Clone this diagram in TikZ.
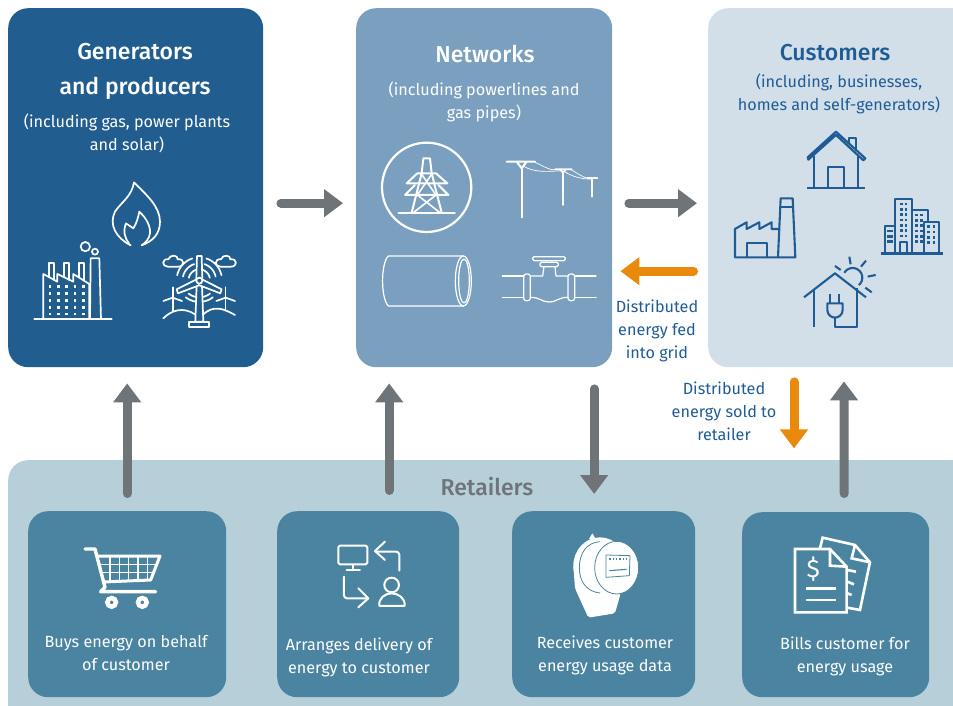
\documentclass[tikz,border=0pt]{standalone}
\usepackage{fontspec}
\setmainfont{Fira Sans}
\newfontfamily\titlefont{Fira Sans Medium}
\usetikzlibrary{arrows.meta}
\definecolor{genblue}{HTML}{215E8F}
\definecolor{netblue}{HTML}{7A9FBF}
\definecolor{custblue}{HTML}{D2DFE9}
\definecolor{retailblue}{HTML}{B7CFD9}
\definecolor{taskblue}{HTML}{4A84A0}
\definecolor{inkblue}{HTML}{1F5C96}
\definecolor{flowgrey}{HTML}{6F7479}
\definecolor{floworange}{HTML}{E98A0C}
\tikzset{
  panel/.style={anchor=north west, inner sep=0pt, rounded corners=20pt},
  title/.style={align=center, font=\titlefont\fontsize{23}{35}\selectfont, inner sep=0pt},
  body/.style={align=center, font=\fontsize{16.2}{23}\selectfont, inner sep=0pt},
  flow/.style={line width=9pt, draw=flowgrey, line cap=round, shorten <=4.5pt, -{Triangle[width=27pt,length=19pt]}},
  oflow/.style={flow, draw=floworange},
  wicon/.style={draw=white, line width=1.7pt, line join=round, line cap=round},
  bicon/.style={draw=inkblue, line width=2.1pt, line join=round},
}
\begin{document}
\begin{tikzpicture}[x=1pt, y=-1pt]
   \useasboundingbox (0,0) rectangle (953,706);
   \clip (0,0) rectangle (953,706);
   \node[panel, fill=genblue, minimum width=255pt, minimum height=359pt] (genbox) at (8,8) {};
   \node[panel, fill=netblue, minimum width=256pt, minimum height=359pt] (netbox) at (356,8) {};
   \node[panel, fill=custblue, minimum width=275pt, minimum height=359pt] (custbox) at (708,8) {};
   \node[panel, fill=retailblue, minimum width=985pt, minimum height=280pt] (retailbox) at (8,460) {};
   \node[panel, fill=taskblue, minimum width=198pt, minimum height=186pt] (buybox) at (28,511) {};
   \node[panel, fill=taskblue, minimum width=182pt, minimum height=186pt] (arrangebox) at (277,511) {};
   \node[panel, fill=taskblue, minimum width=183pt, minimum height=186pt] (usagebox) at (512,511) {};
   \node[panel, fill=taskblue, minimum width=187pt, minimum height=185pt] (billbox) at (742,512) {};

   \node[title, text=white] (gentitle) at (135,71) {Generators\\and producers};
   \node[body, text=white] (gentext) at (127,133) {(including gas, power plants\\and solar)};
   \node[title, text=white] (nettitle) at (485,54) {Networks};
   \node[body, text=white] (nettext) at (484,102) {(including powerlines and\\gas pipes)};
   \node[title, text=inkblue] (custtitle) at (835,53) {Customers};
   \node[body, text=inkblue] (custtext) at (839,94) {(including, businesses,\\homes and self-generators)};
   \node[body, text=inkblue] (fedtext) at (657,331) {Distributed\\energy fed\\into grid};
   \node[body, text=inkblue] (soldtext) at (724,411) {Distributed\\energy sold to\\retailer};
   \node[title, text=flowgrey] (retailtitle) at (487,487) {Retailers};
   \node[body, text=white] (buytext) at (126,653) {Buys energy on behalf\\of customer};
   \node[body, text=white] (arrangetext) at (359,657) {Arranges delivery of\\energy to customer};
   \node[body, text=white] (usagetext) at (605,655) {Receives customer\\energy usage data};
   \node[body, text=white] (billtext) at (845,656) {Bills customer for\\energy usage};

   \draw[flow] ([shift={(13,15.5)}]genbox.east) -- ([shift={(-13,15.5)}]netbox.west);
   \draw[flow] ([shift={(12,15.5)}]netbox.east) -- ([shift={(-11,15.5)}]custbox.west);
   \draw[oflow] ([shift={(-10,83.5)}]custbox.west) -- ([shift={(8,83.5)}]netbox.east);
   \draw[oflow] ([shift={(86,10)}]custbox.south west) -- ([shift={(86,81)}]custbox.south west);
   \draw[flow] ([yshift=13pt]buybox.north) -- ([shift={(-8.5,16)}]genbox.south);
   \draw[flow] ([shift={(21,-16)}]arrangebox.north) -- ([shift={(-95,16)}]netbox.south);
   \draw[flow] ([shift={(110,17)}]netbox.south) -- ([shift={(-9.5,-17)}]usagebox.north);
   \draw[flow] ([shift={(8.5,-14)}]billbox.north) -- ([shift={(136,14)}]custbox.south west);

   % flame
   \begin{scope}[shift={(0,170)}, scale=0.3333]
      \draw[wicon] (392,226) .. controls (350,205) and (325,165) .. (345,125) .. controls (365,95) and (395,80) .. (402,37)
         .. controls (440,75) and (480,110) .. (480,155) .. controls (480,195) and (455,215) .. (425,226);
      \draw[wicon] (388,222) .. controls (375,205) and (368,185) .. (378,160) -- (400,175) .. controls (410,160) and (415,140) .. (418,125)
         .. controls (440,145) and (452,170) .. (450,190) .. controls (448,205) and (438,218) .. (425,226);
      % factory
      \draw[wicon] (103,447) -- (335,447);
      \draw[wicon] (130,447) -- (130,312) -- (172,335) -- (172,312) -- (220,335) -- (220,312) -- (268,342) -- (268,447);
      \draw[wicon] (146,322) -- (146,278) -- (163,278) -- (163,330);
      \draw[wicon] (191,322) -- (191,278) -- (208,278) -- (208,330);
      \draw[wicon] (236,322) -- (236,278) -- (253,278) -- (253,332);
      \draw[wicon] (270,447) -- (272,265) -- (298,265) -- (303,447);
      \draw[wicon] (256,230) circle (14);
      \draw[wicon] (285,245) circle (9);
      \foreach \dotx in {150,175,200,225,250}
         \foreach \doty in {350,370,392,412,432}
            \fill[white] (\dotx-4,\doty-4) rectangle ++(8,8);
      % wind turbines
      \foreach \rad in {32,50,68} {
         \draw[wicon] plot[smooth, domain=12:72, samples=8] ({598+\rad*cos(\x)},{330-\rad*sin(\x)});
         \draw[wicon] plot[smooth, domain=108:168, samples=8] ({598+\rad*cos(\x)},{330-\rad*sin(\x)});
      }
      \foreach \rad in {52,66}
         \draw[wicon] plot[smooth, domain=232:308, samples=8] ({598+\rad*cos(\x)},{330-\rad*sin(\x)});
      \draw[wicon] (567,455) rectangle (628,470);
      \draw[wicon, fill=genblue] (590,345) -- (586,455) -- (610,455) -- (606,345);
      \draw[wicon, fill=genblue] (589,325) -- (591,258) -- (605,258) -- (607,325);
      \draw[wicon, fill=genblue] (590,328) -- (530,358) -- (534,370) -- (600,345);
      \draw[wicon, fill=genblue] (606,328) -- (665,358) -- (661,370) -- (596,345);
      \draw[wicon, fill=genblue] (598,332) circle (9);
      \foreach \cloudx in {0,158}
         \draw[wicon] (503+\cloudx,290) .. controls (485+\cloudx,290) and (485+\cloudx,265) .. (505+\cloudx,268)
            .. controls (510+\cloudx,252) and (535+\cloudx,255) .. (533+\cloudx,268)
            .. controls (555+\cloudx,265) and (555+\cloudx,290) .. (535+\cloudx,290) -- cycle;
      \foreach \millx in {518,677} {
         \draw[wicon] (\millx,352) -- (\millx,422);
         \draw[wicon] (\millx-28,393) -- (\millx,383) -- (\millx+28,393);
         \fill[white] (\millx,384) circle (5);
      }
      \draw[wicon] (490,445) .. controls (515,420) and (550,410) .. (585,433);
      \draw[wicon] (610,433) .. controls (640,405) and (670,415) .. (705,435);
   \end{scope}

   % pylon, poles, pipe, valve
   \begin{scope}[shift={(360,130)}, scale=0.3333]
      \draw[wicon, line width=2.2pt] (200,172) circle (134);
      \draw[wicon, line width=2pt] (115,248) -- (285,248);
      \draw[wicon, line width=2pt] (155,248) -- (185,130) -- (190,85) -- (210,85) -- (215,130) -- (245,248);
      \draw[wicon, line width=2pt] (140,160) -- (172,130) -- (228,130) -- (262,160) -- cycle;
      \draw[wicon, line width=2pt] (135,195) -- (165,165) (235,165) -- (265,195) -- (135,195);
      \draw[wicon, line width=1.6pt] (183,130) -- (228,195) -- (160,248) (217,130) -- (172,195) -- (240,248);
      \draw[wicon, line width=2.2pt] (485,115) -- (485,262);
      \draw[wicon, line width=2pt] (440,95) -- (525,95) (470,95) -- (485,115) -- (500,95);
      \draw[wicon] (609,125) -- (609,225) (585,118) -- (635,118) (600,118) -- (609,128) -- (618,118);
      \draw[wicon] (697,148) -- (697,200) (682,143) -- (712,143);
      \draw[white, line width=0.7pt] (525,97) .. controls (545,105) and (565,120) .. (585,120);
      \draw[white, line width=0.7pt] (490,108) .. controls (520,128) and (565,125) .. (605,122);
      \draw[white, line width=0.7pt] (635,120) .. controls (650,128) and (665,140) .. (682,145);
      \draw[white, line width=0.7pt] (612,124) .. controls (640,142) and (670,148) .. (695,147);
      \draw[wicon, line width=1.2pt] (310,378) -- (85,378) .. controls (62,400) and (62,505) .. (85,528) -- (310,528);
      \draw[wicon, line width=1.2pt] (310,453) ellipse (24 and 75);
      \draw[wicon, line width=1.2pt] (312,453) ellipse (16 and 66);
      \draw[wicon, line width=1.2pt] (427,438) -- (491,438) (427,502) -- (491,502) (644,438) -- (708,438) (644,502) -- (708,502);
      \draw[wicon, line width=1.2pt, rounded corners=2.5pt] (491,432) rectangle (511,512);
      \draw[wicon, line width=1.2pt, rounded corners=2.5pt] (624,432) rectangle (644,512);
      \draw[wicon, line width=1.2pt] (511,438) -- (548,438) -- (552,410) (585,410) -- (588,438) -- (624,438);
      \draw[wicon, line width=1.2pt] (511,502) .. controls (540,502) and (545,516) .. (567,516) .. controls (590,516) and (595,502) .. (624,502);
      \draw[wicon, line width=1.2pt, rounded corners=1.5pt] (518,380) rectangle (616,392);
      \draw[wicon, line width=1.2pt, rounded corners=1.5pt] (540,397) rectangle (595,410);
      \draw[wicon, line width=1.2pt] (560,392) -- (560,397) (574,392) -- (574,397);
   \end{scope}

   % house, factory, offices, solar house
   \begin{scope}[shift={(720,125)}, scale=0.3333]
      \draw[bicon] (265,104) -- (348,30) -- (430,106) -- (436,100) -- (348,20) -- (263,97) -- cycle;
      \draw[bicon] (283,92) -- (283,190) (415,92) -- (415,190) (262,190) -- (436,190);
      \draw[bicon] (325,190) -- (325,125) -- (372,125) -- (372,190);
      \draw[bicon] (388,58) -- (388,38) -- (407,38) -- (407,75);
      \draw[bicon] (178,312) -- (155,312) -- (155,292) -- (118,312) -- (118,292) -- (80,312) -- (80,292) -- (45,312) -- (45,397) -- (226,397) -- (218,220) -- (182,220) -- (174,397);
      \draw[bicon] (180,245) -- (220,245);
      \draw[bicon] (82,397) -- (82,355) -- (140,355) -- (140,397);
      \draw[bicon, line width=2.4pt] (482,385) -- (668,385);
      \draw[bicon] (495,385) -- (495,303) -- (525,303);
      \draw[bicon] (525,385) -- (525,222) -- (577,222) -- (577,385);
      \draw[bicon] (577,255) -- (625,255) -- (625,290);
      \draw[bicon] (612,385) -- (612,290) -- (658,290) -- (658,385);
      \draw[bicon] (540,385) -- (540,352) -- (560,352) -- (560,385);
      \foreach \winx in {544,558}
         \foreach \winy in {237,253,269,285,301,317,333}
            \fill[inkblue] (\winx-4,\winy-4) rectangle ++(8,8);
      \foreach \winx in {590,604}
         \foreach \winy in {270,286,302,318,334,350}
            \fill[inkblue] (\winx-4,\winy-4) rectangle ++(8,8);
      \foreach \winx in {626,642}
         \foreach \winy in {305,321,337,353}
            \fill[inkblue] (\winx-4,\winy-4) rectangle ++(8,8);
      \foreach \winx in {505,515}
         \foreach \winy in {318,334,350}
            \fill[inkblue] (\winx-4,\winy-4) rectangle ++(8,8);
      \draw[bicon] (252,517) -- (345,445) -- (438,517);
      \draw[bicon] (281,495) -- (281,605) (411,490) -- (411,605) -- (345,605) -- (345,578);
      \draw[bicon] (330,507) -- (330,535) (358,507) -- (358,535);
      \draw[bicon] (322,535) -- (368,535) -- (368,555) .. controls (368,570) and (355,578) .. (345,578) .. controls (335,578) and (322,570) .. (322,555) -- cycle;
      \draw[bicon] plot[smooth, domain=-50:150, samples=14] ({398+29*cos(\x)},{458-29*sin(\x)});
      \draw[bicon] (345,423) -- (362,435) (388,395) -- (392,418) (438,407) -- (423,425) (443,455) -- (467,450) (436,488) -- (455,502);
   \end{scope}

   % cart and delivery
   \begin{scope}[shift={(60,530)}, scale=0.3333]
      \draw[wicon, line width=3.4pt] (75,57) -- (105,57) -- (135,172) -- (122,185) -- (287,185);
      \draw[wicon, line width=3pt] (112,78) -- (300,78) -- (272,150) -- (130,156);
      \foreach \gridx in {150,178,206,234,262}
         \draw[white, line width=1.6pt] (\gridx,78) -- (\gridx,154);
      \draw[white, line width=1.6pt] (118,103) -- (290,103) (124,128) -- (280,128);
      \foreach \wheelx in {155,247}
         \draw[draw=white, line width=4.5pt] (\wheelx,217) circle (13);
      \draw[wicon, line width=2pt, rounded corners=1.5pt] (835,47) rectangle (922,103);
      \draw[wicon, line width=2pt] (880,103) -- (880,120) (860,120) -- (900,120);
      \draw[wicon, line width=2pt, rounded corners=3pt] (1018,122) -- (1018,65) -- (950,65);
      \draw[wicon, line width=2pt] (975,35) -- (945,63) -- (975,90);
      \draw[wicon, line width=2pt, rounded corners=3pt] (852,140) -- (852,205) -- (925,205);
      \draw[wicon, line width=2pt] (895,175) -- (925,205) -- (895,232);
      \draw[wicon, line width=2pt] (995,165) circle (22);
      \draw[wicon, line width=2pt] (958,228) .. controls (955,205) and (975,190) .. (995,190) .. controls (1015,190) and (1037,205) .. (1034,228) -- cycle;
   \end{scope}

   % meter and bills
   \begin{scope}[shift={(550,525)}, scale=0.3333]
      \fill[white] (117,42) -- (127,25) -- (137,42) -- cycle;
      \fill[white, rounded corners=2pt] (70,122) -- (75,190) -- (115,278) -- (195,265) -- (212,205) -- (150,122) -- cycle;
      \fill[white] (150,122) ellipse (80 and 85);
      \draw[draw=taskblue, line width=0.8pt] (150,204) .. controls (110,200) and (88,170) .. (88,128) .. controls (88,85) and (110,52) .. (150,50);
      \draw[draw=taskblue, fill=white, line width=0.8pt] (200,128) ellipse (66 and 79);
      \draw[draw=taskblue, fill=white, line width=0.8pt] (168,90) -- (240,92) -- (238,152) -- (168,157) -- cycle;
      \foreach \digitx in {180,190,200,210,220,230}
         \fill[taskblue] (\digitx-2,100) rectangle ++(4,4);
      \draw[draw=taskblue, line width=1.1pt] (178,137) -- (230,133);
      \draw[white, line width=2.6pt, line join=miter] (892,248) -- (930,255) -- (960,112) -- (915,60) -- (818,38) -- (810,70);
      \draw[white, line width=2.6pt] (915,60) -- (905,100) -- (960,112);
      \draw[white, line width=2.6pt] (892,135) -- (918,140) (892,170) -- (912,178) (892,205) -- (905,210);
      \draw[draw=white, fill=taskblue, line width=2.6pt, line join=miter] (735,72) -- (840,72) -- (890,125) -- (890,262) -- (735,262) -- cycle;
      \draw[white, line width=2.6pt] (840,72) -- (840,122) -- (890,125);
      \draw[white, line width=2.6pt] (768,190) -- (857,190) (768,225) -- (857,225);
      \node[text=white, font=\fontsize{25}{25}\selectfont, inner sep=0pt] (dollarsign) at (790,133) {\$};
   \end{scope}
\end{tikzpicture}
\end{document}
